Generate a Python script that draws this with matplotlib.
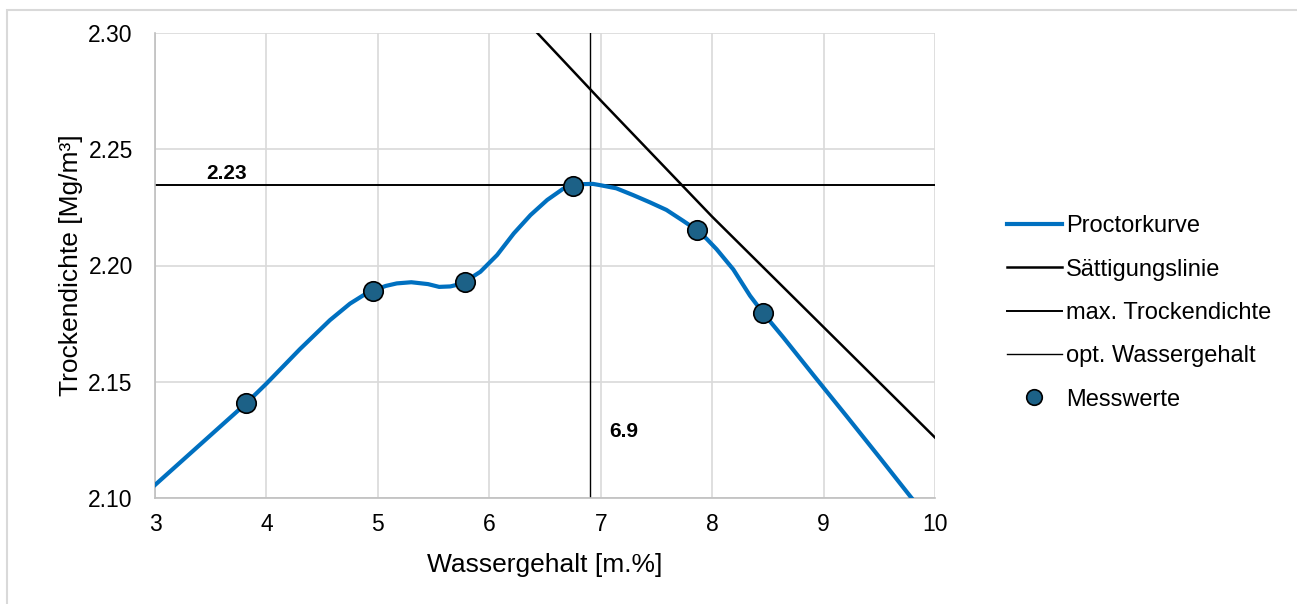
import matplotlib.pyplot as plt
from matplotlib.patches import Rectangle

plt.rcParams['font.family'] = ['Liberation Sans', 'DejaVu Sans']

# Messwerte (Wassergehalt [%], Trockendichte [Mg/m3])
w_mess = [3.82, 4.96, 5.78, 6.75, 7.86, 8.46]
rho_mess = [2.1408, 2.1892, 2.1930, 2.2342, 2.2153, 2.1794]

# Proctorkurve
w_proc = [3.0, 3.82, 4.0, 4.30, 4.57, 4.75, 4.87, 4.96, 5.07, 5.17, 5.30, 5.45,
          5.55, 5.65, 5.72, 5.78, 5.92, 6.07, 6.22, 6.37, 6.52, 6.66, 6.75, 6.84,
          6.93, 6.99, 7.14, 7.29, 7.44, 7.59, 7.74, 7.86, 7.95, 8.04, 8.19, 8.34,
          8.46, 8.64, 8.91, 9.21, 9.51, 9.78, 9.90]
rho_proc = [2.1056, 2.1408, 2.1492, 2.1640, 2.1765, 2.1836, 2.1872, 2.1892, 2.1912,
            2.1923, 2.1928, 2.1920, 2.1908, 2.1910, 2.1918, 2.1930, 2.1973, 2.2045,
            2.2138, 2.2217, 2.2282, 2.2329, 2.2342, 2.2350, 2.2351, 2.2346, 2.2332,
            2.2303, 2.2272, 2.2239, 2.2192, 2.2153, 2.2115, 2.2070, 2.1983, 2.1870,
            2.1794, 2.1690, 2.1528, 2.1350, 2.1170, 2.1006, 2.0935]

# Saettigungslinie
w_sat = [6.0, 7.0, 8.0, 9.0, 10.0]
rho_sat = [2.322, 2.271, 2.221, 2.1735, 2.126]

max_rho = 2.2346
opt_w = 6.9

fig = plt.figure(figsize=(12.97, 6.04), dpi=100)
fig.patches.append(Rectangle((7 / 1297, -0.1), 1.2, 1 - 10 / 604 + 0.1, transform=fig.transFigure,
                             fill=False, edgecolor='#d9d9d9', linewidth=1.5))
ax = fig.add_axes([155 / 1297, 1 - 498 / 604, 780 / 1297, 465 / 604])

ax.plot(w_proc, rho_proc, color='#0070c0', linewidth=3.0, label='Proctorkurve', zorder=3)
ax.plot(w_sat, rho_sat, color='black', linewidth=1.8, label='Sättigungslinie', zorder=2)
ax.axhline(max_rho, color='black', linewidth=1.4, label='max. Trockendichte', zorder=2)
ax.axvline(opt_w, color='black', linewidth=1.0, label='opt. Wassergehalt', zorder=2)
ax.plot(w_mess, rho_mess, 'o', color='#1c6187', markeredgecolor='black', markeredgewidth=1.2,
        markersize=14, label='Messwerte', zorder=4)

ax.text(3.46, 2.2374, '2.23', fontsize=15, fontweight='bold', ha='left', va='baseline')
ax.text(7.08, 2.1285, '6.9', fontsize=15, fontweight='bold', ha='left', va='center')

ax.set_xlim(3, 10)
ax.set_ylim(2.10, 2.30)
ax.set_xticks(range(3, 11))
ax.set_yticks([2.10, 2.15, 2.20, 2.25, 2.30])
ax.set_yticklabels(['2.10', '2.15', '2.20', '2.25', '2.30'])
ax.tick_params(axis='both', length=0, labelsize=16.5)
ax.tick_params(axis='y', pad=16)
ax.tick_params(axis='x', pad=11)
ax.grid(True, color='#d9d9d9', linewidth=1.2)
ax.set_axisbelow(True)
for s in ['top', 'right']:
    ax.spines[s].set_visible(False)
for s in ['left', 'bottom']:
    ax.spines[s].set_color('#bfbfbf')
    ax.spines[s].set_linewidth(1.2)

ax.set_xlabel('Wassergehalt [m.%]', fontsize=19, labelpad=12)
ax.set_ylabel('Trockendichte [Mg/m³]', fontsize=19, labelpad=4)

ax.legend(loc='center left', bbox_to_anchor=(986 / 1297, 1 - 313 / 604),
          bbox_transform=fig.transFigure, frameon=False, fontsize=17,
          handlelength=2.3, handletextpad=0.2, labelspacing=0.9, markerscale=0.8)

fig.savefig('out.png', dpi=100)
